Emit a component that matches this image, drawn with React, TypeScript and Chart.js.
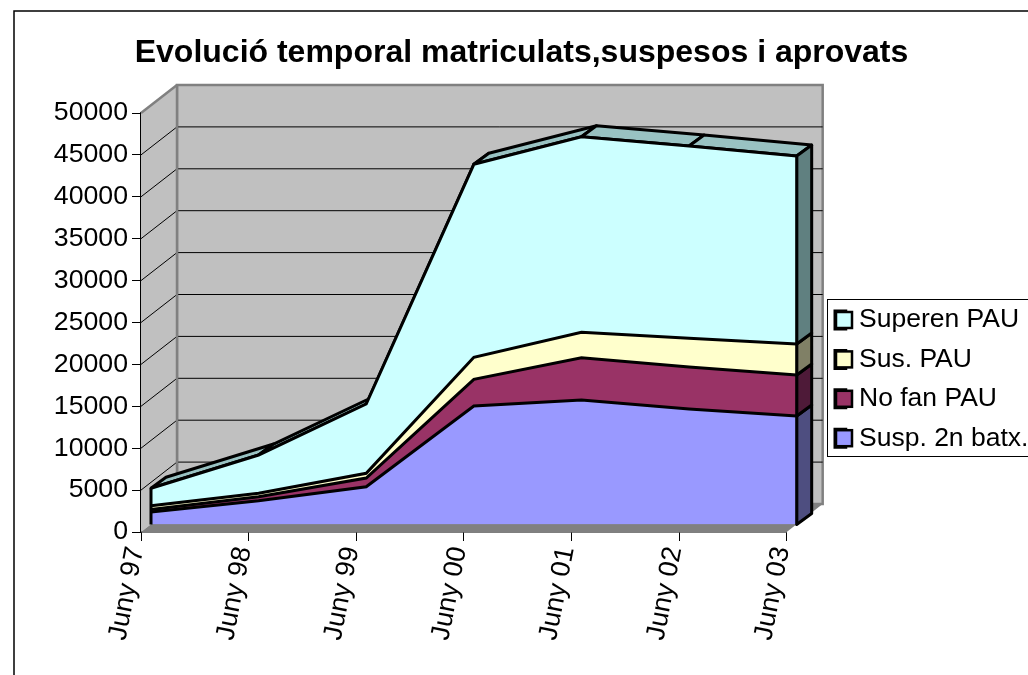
import React, { useEffect, useRef } from "react";
import { Chart, registerables } from "chart.js";

Chart.register(...registerables);

const titleText = "Evolució temporal matriculats,suspesos i aprovats";
const categories = ["Juny 97", "Juny 98", "Juny 99", "Juny 00", "Juny 01", "Juny 02", "Juny 03"];
const suspBatx = [1500, 2840, 4510, 14140, 14860, 13780, 12950];
const noFanPau = [290, 480, 1040, 3190, 5040, 5020, 4890];
const susPau = [450, 400, 560, 2620, 3030, 3430, 3700];
const superenPau = [2080, 4570, 8270, 23030, 23340, 22940, 22430];

const frontColors = ["#9999FF", "#993366", "#FFFFCC", "#CCFFFF"];
const sideColors = ["#4E4E80", "#4E1A38", "#808066", "#608080"];
const topColor = "#99C2C2";
const wallColor = "#C0C0C0";
const edgeColor = "#808080";

const wallDepth = { x: 36, y: -28 };
const seriesFront = { x: 10, y: -7.5 };
const seriesDepth = { x: 15, y: -11 };
const seriesLine = 3;

const threeD = {
  id: "threeD",
  afterLayout(chart: any) {
    const legend = chart.legend;
    const labels = legend.options.labels;
    const pad = labels.padding;
    legend.left = 835 - pad;
    legend.right = legend.left + 400;
    legend.top = 311 - pad - (labels.font.size - 18) / 2;
    legend.bottom = legend.top + 400;
    chart.titleBlock.left = 15;
    chart.titleBlock.right = 1028;
  },
  beforeDraw(chart: any) {
    const { ctx } = chart;
    ctx.save();
    ctx.strokeStyle = "#000";
    ctx.lineWidth = 1.5;
    ctx.beginPath();
    ctx.moveTo(14, 675);
    ctx.lineTo(14, 11);
    ctx.lineTo(1028, 11);
    ctx.stroke();
    ctx.restore();
  },
  beforeDatasetsDraw(chart: any) {
    const { ctx, chartArea: a, scales } = chart;
    const y = scales.y;
    const x = scales.x;
    const d = wallDepth;
    ctx.save();
    // walls
    ctx.fillStyle = wallColor;
    ctx.strokeStyle = edgeColor;
    ctx.lineWidth = 2.5;
    ctx.lineJoin = "miter";
    ctx.beginPath();
    ctx.rect(a.left + d.x, a.top + d.y, a.width, a.height);
    ctx.fill();
    ctx.stroke();
    ctx.beginPath();
    ctx.moveTo(a.left, a.top);
    ctx.lineTo(a.left + d.x, a.top + d.y);
    ctx.lineTo(a.left + d.x, a.bottom + d.y);
    ctx.lineTo(a.left, a.bottom);
    ctx.closePath();
    ctx.fill();
    ctx.beginPath();
    ctx.moveTo(a.left, a.top);
    ctx.lineTo(a.left + d.x, a.top + d.y);
    ctx.stroke();
    // grid
    ctx.strokeStyle = "#000";
    ctx.lineWidth = 1;
    for (const t of y.ticks) {
      const py = y.getPixelForValue(t.value);
      if (t.value === 0 || t.value === y.max) continue;
      ctx.beginPath();
      ctx.moveTo(a.left, py);
      ctx.lineTo(a.left + d.x, py + d.y);
      ctx.lineTo(a.right + d.x, py + d.y);
      ctx.stroke();
    }
    ctx.strokeStyle = edgeColor;
    ctx.lineWidth = 2.5;
    ctx.beginPath();
    ctx.moveTo(a.left + d.x, a.top + d.y);
    ctx.lineTo(a.left + d.x, a.bottom + d.y);
    ctx.stroke();
    // floor
    ctx.fillStyle = edgeColor;
    ctx.beginPath();
    ctx.moveTo(a.left, a.bottom);
    ctx.lineTo(a.left + d.x, a.bottom + d.y);
    ctx.lineTo(a.right + d.x, a.bottom + d.y);
    ctx.lineTo(a.right, a.bottom);
    ctx.closePath();
    ctx.fill();
    ctx.restore();

    // series depth faces, shifted into the 3-D slab
    ctx.save();
    ctx.translate(seriesFront.x, seriesFront.y);
    ctx.lineJoin = "round";
    ctx.strokeStyle = "#000";
    ctx.lineWidth = seriesLine;
    const n = categories.length;
    const series = [suspBatx, noFanPau, susPau, superenPau];
    const totals = categories.map((_, i) => series.reduce((acc, v) => acc + v[i], 0));
    const s = seriesDepth;
    for (let i = 0; i < n - 1; i++) {
      const x0 = x.getPixelForValue(i);
      const x1 = x.getPixelForValue(i + 1);
      const y0 = y.getPixelForValue(totals[i]);
      const y1 = y.getPixelForValue(totals[i + 1]);
      ctx.fillStyle = topColor;
      ctx.beginPath();
      ctx.moveTo(x0, y0);
      ctx.lineTo(x1, y1);
      ctx.lineTo(x1 + s.x, y1 + s.y);
      ctx.lineTo(x0 + s.x, y0 + s.y);
      ctx.closePath();
      ctx.fill();
      ctx.stroke();
    }
    const xe = x.getPixelForValue(n - 1);
    let base = 0;
    series.forEach((v, k) => {
      const top = base + v[n - 1];
      const yb = y.getPixelForValue(base);
      const yt = y.getPixelForValue(top);
      ctx.fillStyle = sideColors[k];
      ctx.beginPath();
      ctx.moveTo(xe, yb);
      ctx.lineTo(xe, yt);
      ctx.lineTo(xe + s.x, yt + s.y);
      ctx.lineTo(xe + s.x, yb + s.y);
      ctx.closePath();
      ctx.fill();
      ctx.stroke();
      base = top;
    });
    ctx.restore();
    // shift that the datasets are drawn under
    ctx.save();
    ctx.translate(seriesFront.x, seriesFront.y);
  },
  afterDatasetsDraw(chart: any) {
    const { ctx, scales } = chart;
    const { x, y } = scales;
    const n = categories.length;
    const total = (i: number) => suspBatx[i] + noFanPau[i] + susPau[i] + superenPau[i];
    ctx.strokeStyle = "#000";
    ctx.lineWidth = seriesLine;
    [0, n - 1].forEach((i) => {
      const px = x.getPixelForValue(i);
      ctx.beginPath();
      ctx.moveTo(px, y.getPixelForValue(0));
      ctx.lineTo(px, y.getPixelForValue(total(i)));
      ctx.stroke();
    });
    ctx.restore();
  },
  afterDraw(chart: any) {
    const { ctx, legend } = chart;
    ctx.save();
    ctx.strokeStyle = "#000";
    ctx.lineWidth = 1;
    ctx.strokeRect(827.5, 299.5, 205, 157);
    ctx.lineWidth = 2.5;
    (legend.legendItems || []).forEach((item: any, i: number) => {
      const hit = legend.legendHitBoxes[i];
      if (!hit) return;
      const top = hit.top + (hit.height - 18) / 2;
      ctx.fillStyle = item.fillStyle;
      ctx.fillRect(hit.left + 1, top + 1, 16, 16);
      ctx.strokeRect(hit.left + 1, top + 1, 16, 16);
    });
    ctx.restore();
  },
};

export default function App() {
  const ref = useRef<HTMLCanvasElement>(null);
  useEffect(() => {
    document.body.style.margin = "0";
    const names = ["Susp. 2n batx.", "No fan PAU", "Sus. PAU", "Superen PAU"];
    const values = [suspBatx, noFanPau, susPau, superenPau];
    const chart = new Chart(ref.current!, {
      type: "line",
      data: {
        labels: categories,
        datasets: names.map((label, k) => ({
          label,
          data: values[k],
          backgroundColor: frontColors[k],
          borderColor: "#000",
          borderWidth: seriesLine,
          pointRadius: 0,
          tension: 0,
          clip: false,
          fill: k === 0 ? "origin" : "-1",
        })),
      },
      options: {
        responsive: false,
        animation: false,
        layout: { padding: { left: 0, top: 0, right: 25, bottom: 0 } },
        plugins: {
          title: {
            display: true,
            text: titleText,
            color: "#000",
            font: { family: "Liberation Sans", size: 32, weight: "bold" },
            padding: { top: 33.8, bottom: 40.8 },
          },
          legend: {
            position: "right",
            align: "start",
            reverse: true,
            labels: {
              color: "#000",
              font: { family: "Liberation Sans", size: 26.5 },
              boxWidth: 10.75,
              boxHeight: 18,
              padding: 12.9,
            },
          },
          tooltip: { enabled: false },
        },
        scales: {
          x: {
            offset: false,
            afterFit: (s: any) => {
              s.height = 143;
              s.paddingLeft = 0;
              s.paddingRight = 0;
            },
            grid: { drawOnChartArea: false, drawTicks: true, tickLength: 9, color: "#000" },
            border: { color: "#000", width: 1.5 },
            ticks: {
              color: "#000",
              autoSkip: false,
              minRotation: 79,
              maxRotation: 79,
              padding: 3,
              labelOffset: -5,
              font: { family: "Liberation Sans", size: 27 },
            },
          },
          y: {
            stacked: true,
            min: 0,
            max: 50000,
            afterFit: (s: any) => {
              s.width = 141;
            },
            grid: { drawOnChartArea: false, drawTicks: true, tickLength: 9, color: "#000" },
            border: { color: "#000", width: 1.5 },
            ticks: {
              color: "#000",
              stepSize: 5000,
              padding: 4,
              font: { family: "Liberation Sans", size: 26.7 },
              callback: (v: any) => String(v),
            },
          },
        },
      },
      plugins: [threeD],
    } as any);
    return () => chart.destroy();
  }, []);
  return <canvas ref={ref} width={1028} height={675} style={{ display: "block" }} />;
}
